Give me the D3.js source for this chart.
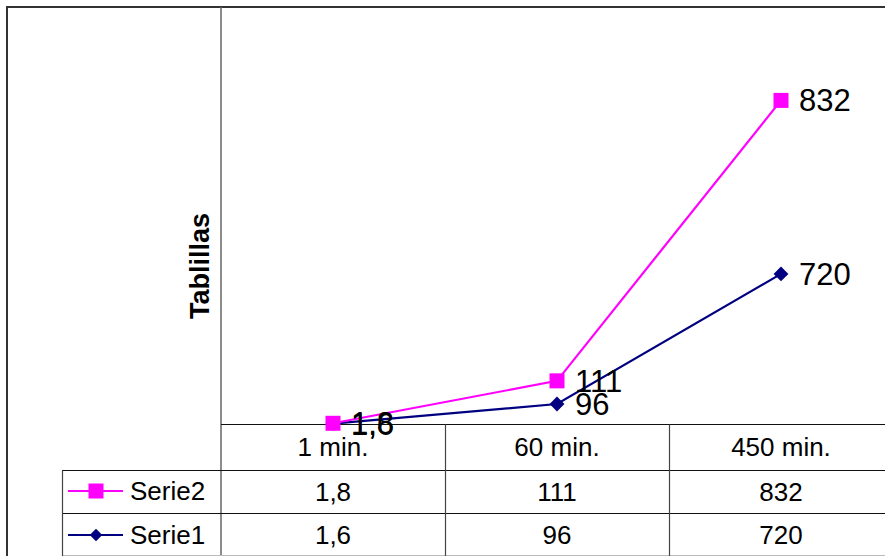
<!DOCTYPE html>
<html><head><meta charset="utf-8">
<script src="https://cdn.jsdelivr.net/npm/d3@7"></script>
<style>body{margin:0;background:#fff;}svg{display:block;font-family:"Liberation Sans",Arial,sans-serif;}</style>
</head><body>
<svg id="c" width="885" height="556"></svg>
<script>
const categories = ["1 min.", "60 min.", "450 min."];
const serie1 = [1.6, 96, 720];
const serie2 = [1.8, 111, 832];
const serie1Labels = ["1,6", "96", "720"];
const serie2Labels = ["1,8", "111", "832"];
const seriesNames = ["Serie1", "Serie2"];
const yDomain = [0, 2000];

const svg = d3.select("#c");
const plotLeft = 221, bandW = 224, plotBottom = 424, plotTop = 7;
const x = d3.scaleBand().domain(categories).range([plotLeft, plotLeft + bandW * categories.length]);
const y = d3.scaleLinear().domain(yDomain).range([plotBottom, plotTop]);

// stacked data
const rows = categories.map((c, i) => ({cat: c, Serie1: serie1[i], Serie2: serie2[i]}));
const stack = d3.stack().keys(seriesNames)(rows);

// outer border
svg.append("line").attr("x1", 6).attr("x2", 885).attr("y1", 7).attr("y2", 7).attr("stroke", "#333").attr("stroke-width", 2);
svg.append("line").attr("x1", 7).attr("x2", 7).attr("y1", 6).attr("y2", 556).attr("stroke", "#333").attr("stroke-width", 2);

// vertical axis line
svg.append("line").attr("x1", plotLeft).attr("x2", plotLeft).attr("y1", 7).attr("y2", 556).attr("stroke", "#666").attr("stroke-width", 1.5);

// table lines
const rowY = [424.5, 470.5, 513.5, 555.5];
svg.append("line").attr("x1", plotLeft).attr("x2", 885).attr("y1", rowY[0]).attr("y2", rowY[0]).attr("stroke", "#111").attr("stroke-width", 1.2);
svg.append("line").attr("x1", 62).attr("x2", 885).attr("y1", rowY[1]).attr("y2", rowY[1]).attr("stroke", "#111").attr("stroke-width", 1.2);
svg.append("line").attr("x1", 62).attr("x2", 885).attr("y1", rowY[2]).attr("y2", rowY[2]).attr("stroke", "#111").attr("stroke-width", 1.2);
svg.append("line").attr("x1", 62).attr("x2", 885).attr("y1", rowY[3]).attr("y2", rowY[3]).attr("stroke", "#bbb").attr("stroke-width", 1);
svg.append("line").attr("x1", 62.5).attr("x2", 62.5).attr("y1", rowY[1]).attr("y2", 556).attr("stroke", "#444").attr("stroke-width", 1.2);
categories.slice(1).forEach(c => {
  svg.append("line").attr("x1", x(c) + 0.5).attr("x2", x(c) + 0.5).attr("y1", rowY[0]).attr("y2", 556).attr("stroke", "#444").attr("stroke-width", 1.2);
});

// axis title
svg.append("text").attr("transform", "translate(209,266) rotate(-90)").attr("text-anchor", "middle")
  .attr("font-weight", "bold").attr("font-size", 27).text("Tablillas");

// table text
const fs = 26;
const cx = c => x(c) + x.bandwidth() / 2;
categories.forEach(c => svg.append("text").attr("x", cx(c)).attr("y", 456).attr("text-anchor", "middle").attr("font-size", fs).text(c));
serie2Labels.forEach((t, i) => svg.append("text").attr("x", cx(categories[i])).attr("y", 501).attr("text-anchor", "middle").attr("font-size", fs).text(t));
serie1Labels.forEach((t, i) => svg.append("text").attr("x", cx(categories[i])).attr("y", 544).attr("text-anchor", "middle").attr("font-size", fs).text(t));

const colors = {Serie1: "#000080", Serie2: "#FF00FF"};
const labels = {Serie1: serie1Labels, Serie2: serie2Labels};

// legend keys in table
function marker(g, key, px, py, big) {
  if (key === "Serie2") {
    g.append("rect").attr("x", px - 7.5).attr("y", py - 7.5).attr("width", 15).attr("height", 15).attr("fill", colors[key]);
  } else {
    g.append("path").attr("d", d3.symbol(d3.symbolDiamond2, big ? 140 : 100)()).attr("transform", `translate(${px},${py})`).attr("fill", colors[key]);
  }
}
[["Serie2", 491], ["Serie1", 535]].forEach(([k, ly]) => {
  svg.append("line").attr("x1", 68).attr("x2", 123).attr("y1", ly).attr("y2", ly).attr("stroke", colors[k]).attr("stroke-width", 2);
  marker(svg, k, 96, ly, false);
  svg.append("text").attr("x", 130).attr("y", ly + 9).attr("font-size", fs).text(k);
});

// lines
const line = d3.line().x(d => cx(d.data.cat)).y(d => y(d[1]));
stack.forEach(s => {
  const g = svg.append("g");
  g.append("path").attr("d", line(s)).attr("fill", "none").attr("stroke", colors[s.key]).attr("stroke-width", 2.2);
  s.forEach(d => marker(g, s.key, cx(d.data.cat), y(d[1]), true));
});
stack.forEach(s => {
  s.forEach((d, i) => {
    svg.append("text").attr("x", cx(d.data.cat) + 18).attr("y", y(d[1]) + 11).attr("font-size", 31).text(labels[s.key][i]);
  });
});
</script>
</body></html>
